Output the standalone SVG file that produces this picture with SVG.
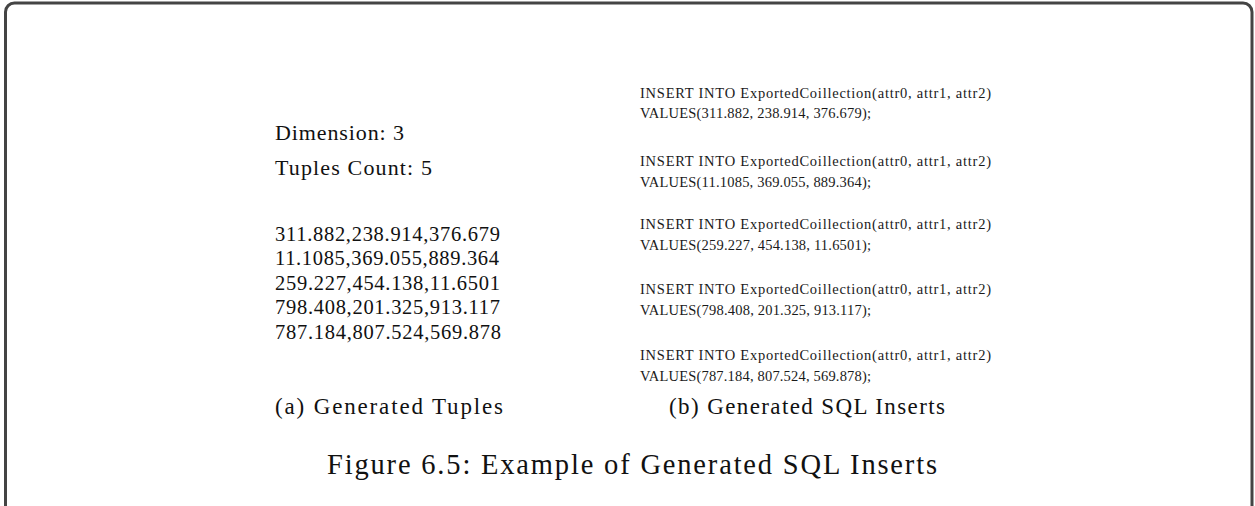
<svg xmlns="http://www.w3.org/2000/svg" width="1255" height="506" viewBox="0 0 1255 506">
<style>
.t{font-family:"Liberation Serif","Times New Roman",serif;fill:#111;}
.l{font-size:20.5px;}
.h{font-size:22px;}
.s{font-size:14.5px;fill:#1a1a1a;}
.c{font-size:23px;}
.f{font-size:28.5px;}
</style>
<rect x="5.5" y="3" width="1246.5" height="512" rx="9" fill="#fff" stroke="#444" stroke-width="3"/>
<g id="tuples">
<text class="t h" x="275" y="139.5" textLength="129" lengthAdjust="spacing">Dimension: 3</text>
<text class="t h" x="275" y="174.5" textLength="157" lengthAdjust="spacing">Tuples Count: 5</text>
<text class="t l" x="275" y="240.5" textLength="225" lengthAdjust="spacing">311.882,238.914,376.679</text>
<text class="t l" x="275" y="265" textLength="224" lengthAdjust="spacing">11.1085,369.055,889.364</text>
<text class="t l" x="275" y="289.5" textLength="225" lengthAdjust="spacing">259.227,454.138,11.6501</text>
<text class="t l" x="275" y="314" textLength="225" lengthAdjust="spacing">798.408,201.325,913.117</text>
<text class="t l" x="275" y="338.5" textLength="226" lengthAdjust="spacing">787.184,807.524,569.878</text>
<text class="t c" x="275" y="414" textLength="228" lengthAdjust="spacing">(a) Generated Tuples</text>
</g>
<g id="sql">
<text class="t s" x="640" y="97.5" textLength="351" lengthAdjust="spacing">INSERT INTO ExportedCoillection(attr0, attr1, attr2)</text>
<text class="t s" x="640" y="117.5" textLength="231" lengthAdjust="spacing">VALUES(311.882, 238.914, 376.679);</text>
<text class="t s" x="640" y="165.5" textLength="351" lengthAdjust="spacing">INSERT INTO ExportedCoillection(attr0, attr1, attr2)</text>
<text class="t s" x="640" y="186.5" textLength="231" lengthAdjust="spacing">VALUES(11.1085, 369.055, 889.364);</text>
<text class="t s" x="640" y="228.5" textLength="351" lengthAdjust="spacing">INSERT INTO ExportedCoillection(attr0, attr1, attr2)</text>
<text class="t s" x="640" y="249.5" textLength="231" lengthAdjust="spacing">VALUES(259.227, 454.138, 11.6501);</text>
<text class="t s" x="640" y="294" textLength="351" lengthAdjust="spacing">INSERT INTO ExportedCoillection(attr0, attr1, attr2)</text>
<text class="t s" x="640" y="315" textLength="231" lengthAdjust="spacing">VALUES(798.408, 201.325, 913.117);</text>
<text class="t s" x="640" y="359.5" textLength="351" lengthAdjust="spacing">INSERT INTO ExportedCoillection(attr0, attr1, attr2)</text>
<text class="t s" x="640" y="380.5" textLength="231" lengthAdjust="spacing">VALUES(787.184, 807.524, 569.878);</text>
<text class="t c" x="669" y="414" textLength="276" lengthAdjust="spacing">(b) Generated SQL Inserts</text>
</g>
<g id="caption">
<text class="t f" x="327" y="474" textLength="610" lengthAdjust="spacing">Figure 6.5: Example of Generated SQL Inserts</text>
</g>
</svg>
